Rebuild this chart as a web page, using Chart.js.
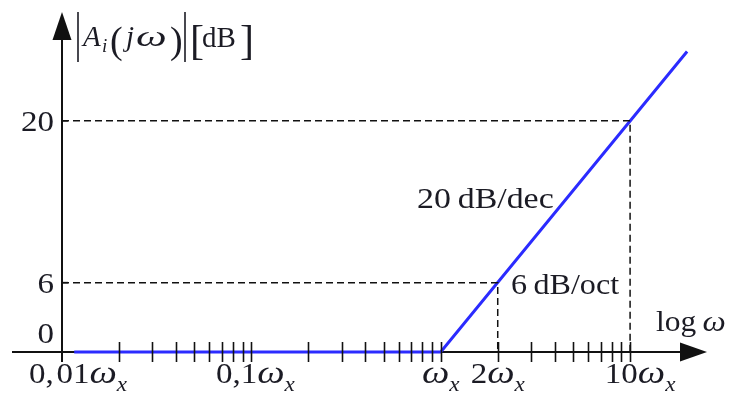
<!DOCTYPE html>
<html>
<head>
<meta charset="utf-8">
<script src="https://cdn.jsdelivr.net/npm/chart.js@4.4.1/dist/chart.umd.min.js"></script>
<style>
  html, body { margin: 0; padding: 0; background: #fff; }
  canvas { display: block; }
</style>
</head>
<body>
<canvas id="bode" width="731" height="397"></canvas>
<script>
// Asymptotic Bode magnitude: flat 0 dB, then +20 dB/dec from ωx
const asymptoteOmega = [0.0116, 1, 20];   // in units of ωx
const asymptoteDb = [0, 0, 26];

// dashed guide lines
const guide20Omega = [0.01, 10, 10];
const guide20Db = [20, 20, 0];
const guide6Omega = [0.01, 2, 2];
const guide6Db = [6, 6, 0];

// axis ticks and labels
const decades = [0.01, 0.1, 1, 10];
const xLabelValues = [0.01, 0.1, 1, 2, 10];
const xLabelPrefix = ['0,\u200a01', '0,1', '', '2', '10'];
const yTickValues = [0, 6, 20];
const yTickLabels = ['0', '6', '20'];

const SERIF = '"Liberation Serif", "DejaVu Serif", serif';
const INK = '#1b1b24';
const STRETCH = 1.1; // the reference type is a little wider than Liberation Serif

function pts(xs, ys) {
    return xs.map((x, i) => ({ x: x, y: ys[i] }));
}

// draws a piece of text made of parts: {t, size, italic, dy, sx}
function drawRich(ctx, parts, x, y, align) {
    const widths = parts.map(p => {
        ctx.font = (p.italic ? 'italic ' : '') + p.size + 'px ' + SERIF;
        return ctx.measureText(p.t).width * (p.sx || STRETCH);
    });
    const total = widths.reduce((a, b) => a + b, 0);
    let cx = align === 'center' ? x - total / 2 : (align === 'right' ? x - total : x);
    parts.forEach((p, i) => {
        ctx.font = (p.italic ? 'italic ' : '') + p.size + 'px ' + SERIF;
        ctx.save();
        ctx.translate(cx, y + (p.dy || 0));
        ctx.scale(p.sx || STRETCH, 1);
        ctx.fillText(p.t, 0, 0);
        ctx.restore();
        cx += widths[i];
    });
}

const axesPlugin = {
    id: 'bodeAxes',
    beforeDatasetsDraw(chart) {
        const ctx = chart.ctx;
        const xs = chart.scales.x, ys = chart.scales.y;
        const x0 = xs.getPixelForValue(0.01);
        const y0 = ys.getPixelForValue(0);
        ctx.save();
        ctx.strokeStyle = '#111';
        ctx.fillStyle = '#111';
        ctx.lineWidth = 2;
        // x axis
        ctx.beginPath();
        ctx.moveTo(12, y0);
        ctx.lineTo(684, y0);
        ctx.stroke();
        ctx.beginPath();
        ctx.moveTo(707, y0);
        ctx.lineTo(680, y0 - 9.5);
        ctx.lineTo(680, y0 + 9.5);
        ctx.closePath();
        ctx.fill();
        // y axis
        ctx.beginPath();
        ctx.moveTo(x0, y0 + 10);
        ctx.lineTo(x0, 36);
        ctx.stroke();
        ctx.beginPath();
        ctx.moveTo(x0, 12);
        ctx.lineTo(x0 - 9.5, 40);
        ctx.lineTo(x0 + 9.5, 40);
        ctx.closePath();
        ctx.fill();
        ctx.restore();
    },
    afterDatasetsDraw(chart) {
        const ctx = chart.ctx;
        const xs = chart.scales.x, ys = chart.scales.y;
        const y0 = ys.getPixelForValue(0);
        ctx.save();

        // log ticks 1..9 in each decade up to 10ωx
        ctx.strokeStyle = '#111';
        ctx.lineWidth = 1.6;
        decades.forEach(d => {
            for (let m = 1; m <= 9; m++) {
                const v = d * m;
                if (v <= 0.01 || v > 10) continue;
                const px = Math.round(xs.getPixelForValue(v)) + 0.5;
                ctx.beginPath();
                ctx.moveTo(px, y0 - 10);
                ctx.lineTo(px, y0 + 10);
                ctx.stroke();
            }
        });
        // small ticks on y axis at labelled values
        const x0 = xs.getPixelForValue(0.01);
        yTickValues.forEach(v => {
            if (v === 0) return;
            const py = ys.getPixelForValue(v);
            ctx.beginPath();
            ctx.moveTo(x0, py);
            ctx.lineTo(x0 + 6, py);
            ctx.stroke();
        });

        ctx.fillStyle = INK;
        ctx.textBaseline = 'alphabetic';

        // y tick labels
        yTickValues.forEach((v, i) => {
            const py = ys.getPixelForValue(v);
            const base = v === 0 ? py - 9 : py + 10;
            drawRich(ctx, [{ t: yTickLabels[i], size: 30 }], 54, base, 'right');
        });

        // x tick labels
        const xOffsets = [16, 4, 0, 0, 10];
        xLabelValues.forEach((v, i) => {
            const px = xs.getPixelForValue(v) + xOffsets[i];
            const parts = [];
            if (xLabelPrefix[i]) parts.push({ t: xLabelPrefix[i], size: 30 });
            parts.push({ t: 'ω', size: 31, italic: true, sx: 1.25 });
            parts.push({ t: 'x', size: 21, italic: true, dy: 8 });
            drawRich(ctx, parts, px, 383, 'center');
        });

        // axis titles
        drawRich(ctx, [{ t: 'log\u2009', size: 30, sx: 1.05 }, { t: 'ω', size: 30, italic: true, sx: 1.1 }], 656, 331, 'left');

        // |A_i(jω)| [dB]
        ctx.strokeStyle = INK;
        ctx.lineWidth = 1.6;
        [78, 185].forEach(bx => {
            ctx.beginPath();
            ctx.moveTo(bx, 12);
            ctx.lineTo(bx, 62);
            ctx.stroke();
        });
        drawRich(ctx, [{ t: 'A', size: 29, italic: true, sx: 1 }], 83, 46, 'left');
        drawRich(ctx, [{ t: 'i', size: 19, italic: true, sx: 1 }], 102, 52, 'left');
        drawRich(ctx, [{ t: '(', size: 38, sx: 1 }], 110, 53, 'left');
        drawRich(ctx, [{ t: 'j', size: 29, italic: true, sx: 1 }], 126, 46, 'left');
        drawRich(ctx, [{ t: 'ω', size: 30, italic: true, sx: 1.45 }], 136, 46, 'left');
        drawRich(ctx, [{ t: ')', size: 38, sx: 1 }], 170, 53, 'left');
        drawRich(ctx, [{ t: '[', size: 42, sx: 1 }], 190, 54, 'left');
        drawRich(ctx, [{ t: 'dB', size: 29, sx: 1.0 }], 202, 47, 'left');
        drawRich(ctx, [{ t: ']', size: 42, sx: 1 }], 240, 54, 'left');

        // slope annotations
        drawRich(ctx, [{ t: '20\u2009dB/dec', size: 30, sx: 1.13 }], 417, 208, 'left');
        drawRich(ctx, [{ t: '6\u2009dB/oct', size: 30, sx: 1.07 }], 511, 294, 'left');

        ctx.restore();
    }
};

new Chart(document.getElementById('bode'), {
    type: 'scatter',
    data: {
        datasets: [
            {
                label: '20 dB guide',
                data: pts(guide20Omega, guide20Db),
                showLine: true,
                borderColor: '#111',
                borderWidth: 1.5,
                borderDash: [7, 4],
                pointRadius: 0,
                clip: false
            },
            {
                label: '6 dB guide',
                data: pts(guide6Omega, guide6Db),
                showLine: true,
                borderColor: '#111',
                borderWidth: 1.5,
                borderDash: [7, 4],
                pointRadius: 0,
                clip: false
            },
            {
                label: '|Ai(jω)|',
                data: pts(asymptoteOmega, asymptoteDb),
                showLine: true,
                borderColor: '#2b2bff',
                borderWidth: 3,
                pointRadius: 0,
                clip: false
            }
        ]
    },
    options: {
        responsive: false,
        animation: false,
        layout: { padding: { left: 62, right: 31, top: 11, bottom: 45 } },
        plugins: { legend: { display: false }, tooltip: { enabled: false } },
        scales: {
            x: { type: 'logarithmic', min: 0.01, max: 23.4, display: false },
            y: { type: 'linear', min: 0, max: 29.5, display: false }
        }
    },
    plugins: [axesPlugin]
});
</script>
</body>
</html>
